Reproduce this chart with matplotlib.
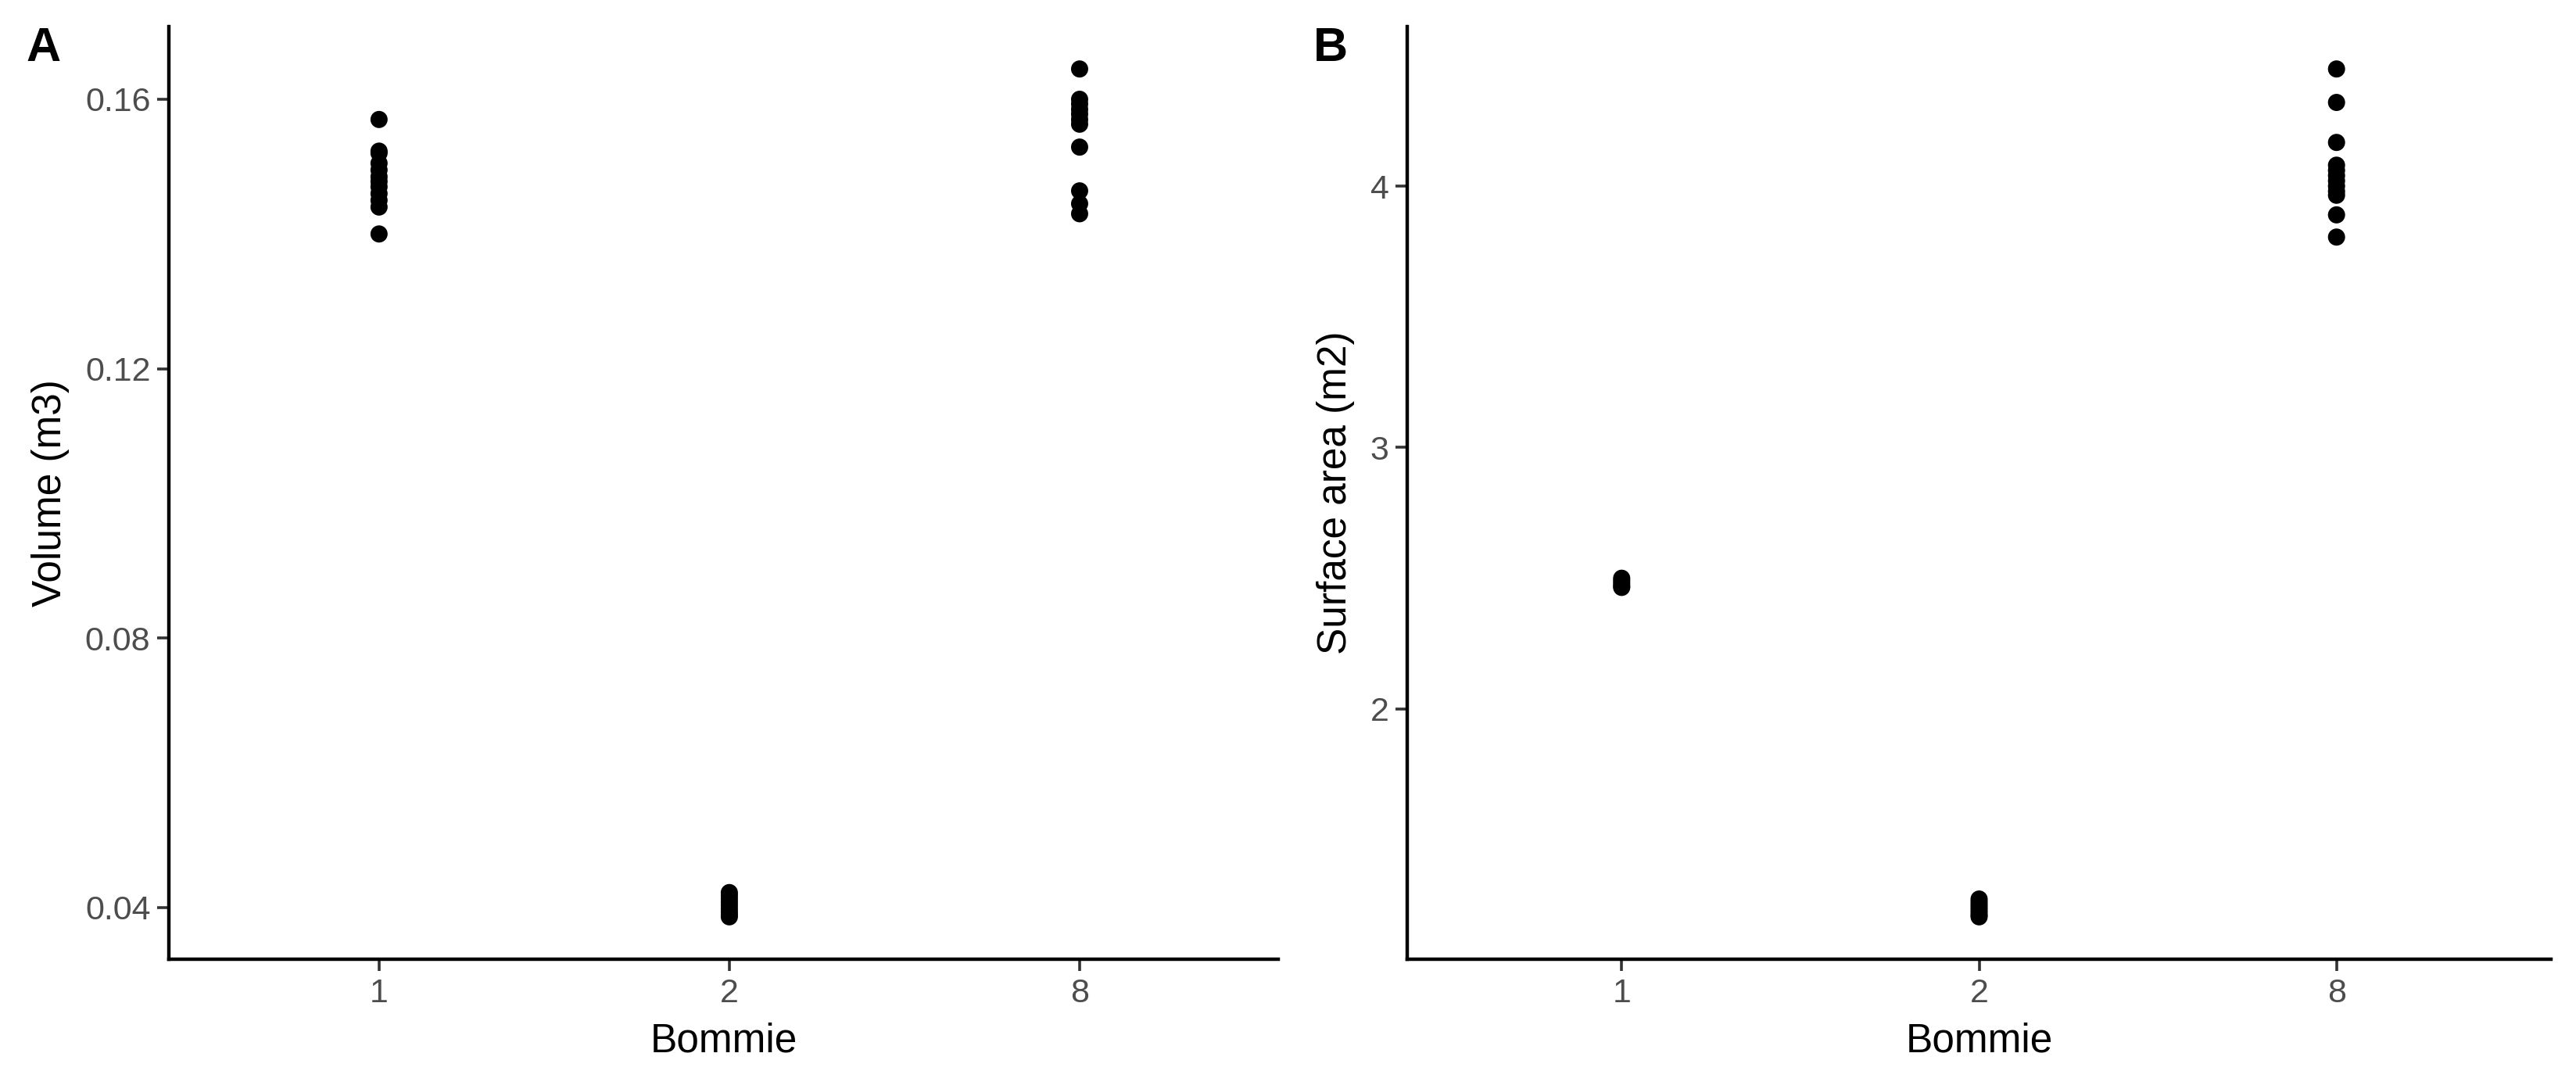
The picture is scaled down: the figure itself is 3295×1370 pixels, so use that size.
import matplotlib
matplotlib.use("Agg")
import matplotlib.pyplot as plt

plt.rcParams['font.family'] = ['Liberation Sans', 'DejaVu Sans']

# ---- data ----
categories = ["1", "2", "8"]

vol_1 = [0.1570, 0.1523, 0.1520, 0.1505, 0.1495, 0.1485, 0.1478, 0.1470, 0.1460, 0.1450, 0.1440, 0.1400]
vol_2 = [0.0422, 0.0418, 0.0413, 0.0408, 0.0403, 0.0398, 0.0393, 0.0389, 0.0386]
vol_8 = [0.1645, 0.1600, 0.1593, 0.1585, 0.1578, 0.1570, 0.1563, 0.1529, 0.1464, 0.1445, 0.1430]

sa_1 = [2.500, 2.490, 2.480, 2.470, 2.465]
sa_2 = [1.273, 1.262, 1.252, 1.242, 1.232, 1.222, 1.212, 1.205]
sa_8 = [4.448, 4.320, 4.167, 4.080, 4.060, 4.040, 4.020, 4.000, 3.980, 3.965, 3.890, 3.805]

vol_ticks = [0.04, 0.08, 0.12, 0.16]
vol_ticklabels = ["0.04", "0.08", "0.12", "0.16"]
sa_ticks = [2, 3, 4]
sa_ticklabels = ["2", "3", "4"]

W, H = 3295, 1370
fig = plt.figure(figsize=(W / 100, H / 100), dpi=100)

axA = fig.add_axes([216 / W, (H - 1227) / H, 1419 / W, (1227 - 34) / H])
axB = fig.add_axes([1800 / W, (H - 1227) / H, 1463 / W, (1227 - 34) / H])


def style(ax, groups, ticks, ticklabels, ylabel, letter, letter_x, xright):
    for i, vals in enumerate(groups):
        ax.scatter([i] * len(vals), vals, s=250, color="black", edgecolors="none", zorder=3)
    allv = [v for g in groups for v in g]
    lo, hi = min(allv), max(allv)
    pad = (hi - lo) * 0.05
    ax.set_ylim(lo - pad, hi + pad)
    ax.set_xlim(-0.6, xright)
    ax.set_xticks(range(len(groups)))
    ax.set_xticklabels(categories)
    ax.set_yticks(ticks)
    ax.set_yticklabels(ticklabels)
    for side in ("top", "right"):
        ax.spines[side].set_visible(False)
    for side in ("left", "bottom"):
        ax.spines[side].set_linewidth(3.2)
        ax.spines[side].set_color("black")
    ax.tick_params(axis="both", length=11, width=2.6, color="#333333",
                   labelcolor="#4D4D4D", labelsize=31, pad=6)
    ax.set_xlabel("Bommie", fontsize=37, color="black", labelpad=12)
    ax.set_ylabel(ylabel, fontsize=37, color="black", labelpad=14)
    fig.text(letter_x / W, 1 - 34 / H, letter, fontsize=44, fontweight="bold",
             ha="left", va="top")


style(axA, [vol_1, vol_2, vol_8], vol_ticks, vol_ticklabels, "Volume (m3)", "A", 33, 2.567)
style(axB, [sa_1, sa_2, sa_8], sa_ticks, sa_ticklabels, "Surface area (m2)", "B", 1680, 2.6)

fig.savefig("out.png", dpi=100, facecolor="white")
